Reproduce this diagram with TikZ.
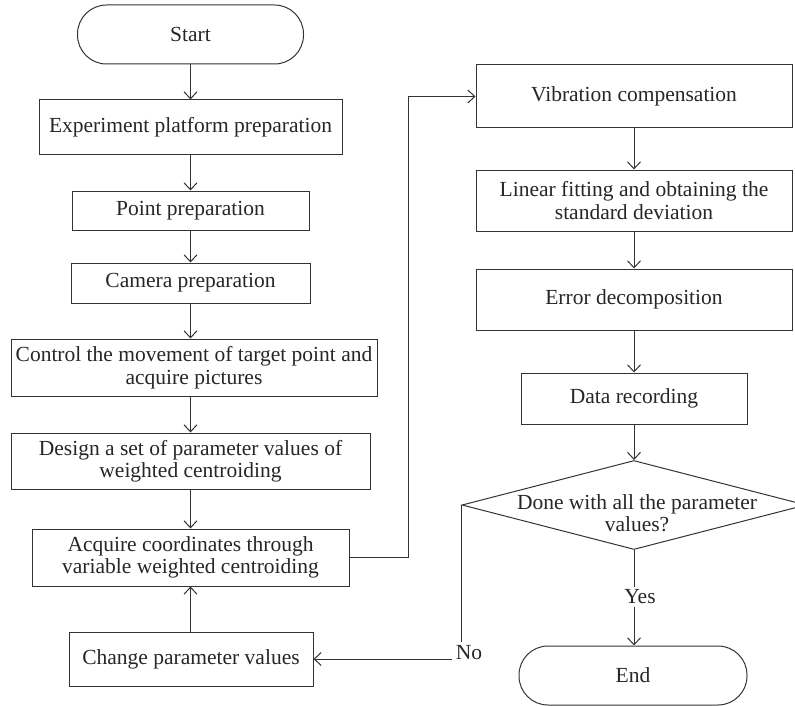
\documentclass[tikz,border=0pt]{standalone}
\usepackage{fontspec}
\setmainfont{Liberation Serif}
\usetikzlibrary{arrows.meta,shapes.geometric}
\begin{document}
\begin{tikzpicture}[x=1pt,y=-1pt,
  line width=1pt,
  txt/.style={font=\fontsize{21.5}{22.5}\selectfont, text=black!85},
  box/.style 2 args={draw=black!80, line width=1pt, minimum width=#1, minimum height=#2,
    inner sep=0pt, align=center, txt},
  term/.style 2 args={box={#1}{#2}, rounded corners=29pt},
  arr/.style={draw=black!80, line width=1pt, -{Straight Barb[length=7pt,width=13pt]}},
  ln/.style={draw=black!80, line width=1pt}
]
\useasboundingbox (0,0) rectangle (795,706);

\node[term={226pt}{59pt}] (start) at (190.5,34.5) {Start};
\node[box={303pt}{55pt}] (exp) at (190.5,127.5) {Experiment platform preparation};
\node[box={237pt}{39pt}] (point) at (190.5,210.5) {Point preparation};
\node[box={239pt}{40pt}] (camera) at (190.5,283) {Camera preparation};
\node[box={366pt}{57pt}] (control) at (194,367.5) {Control the movement of target point and\\acquire pictures};
\node[box={359pt}{56pt}] (design) at (190.5,461) {Design a set of parameter values of\\weighted centroiding};
\node[box={317pt}{57pt}] (acquire) at (190.5,557.5) {Acquire coordinates through\\variable weighted centroiding};
\node[box={244pt}{54pt}] (change) at (191,659) {Change parameter values};

\node[box={316pt}{63pt}] (vib) at (634,96.5) {Vibration compensation};
\node[box={316pt}{61pt}] (linear) at (634,200.5) {Linear fitting and obtaining the\\standard deviation};
\node[box={316pt}{61pt}] (error) at (634,299.5) {Error decomposition};
\node[box={226pt}{51pt}] (data) at (634,398.5) {Data recording};
\node[draw=black!80, line width=1pt, shape=diamond, minimum width=344pt, minimum height=89pt, inner sep=0pt] (dec) at (634,505) {};
\node[txt, align=center, inner sep=0pt] (dectxt) at (637,513) {Done with all the parameter\\values?};
\node[term={228pt}{59pt}] (end) at (633,675.5) {End};

\node[txt, fill=white, inner sep=2pt] (yes) at (640,597) {Yes};
\node[txt, inner sep=3pt] (no) at (469,653) {No};

\draw[arr] (start) -- (exp);
\draw[arr] (exp) -- (point);
\draw[arr] (point) -- (camera);
\draw[arr] (camera.south) -- (control.north -| camera.south);
\draw[arr] (control.south -| design.north) -- (design.north);
\draw[arr] (design) -- (acquire);
\draw[arr] (change.north -| acquire.south) -- (acquire.south);
\coordinate (r1) at (408,557.5);
\coordinate (r2) at (408,96.5);
\draw[arr] (acquire.east) -- (r1) -- (r2) -- (vib.west);
\draw[arr] (vib) -- (linear);
\draw[arr] (linear) -- (error);
\draw[arr] (error) -- (data);
\draw[arr] (data) -- (dec.north);
\draw[ln] (dec.south) -- (yes.north -| dec.south);
\draw[arr] (yes.south -| dec.south) -- (end.north -| dec.south);
\draw[ln] (dec.west) -- (dec.west |- no.north);
\draw[arr] (no.west |- change.east) -- (change.east);
\end{tikzpicture}
\end{document}
